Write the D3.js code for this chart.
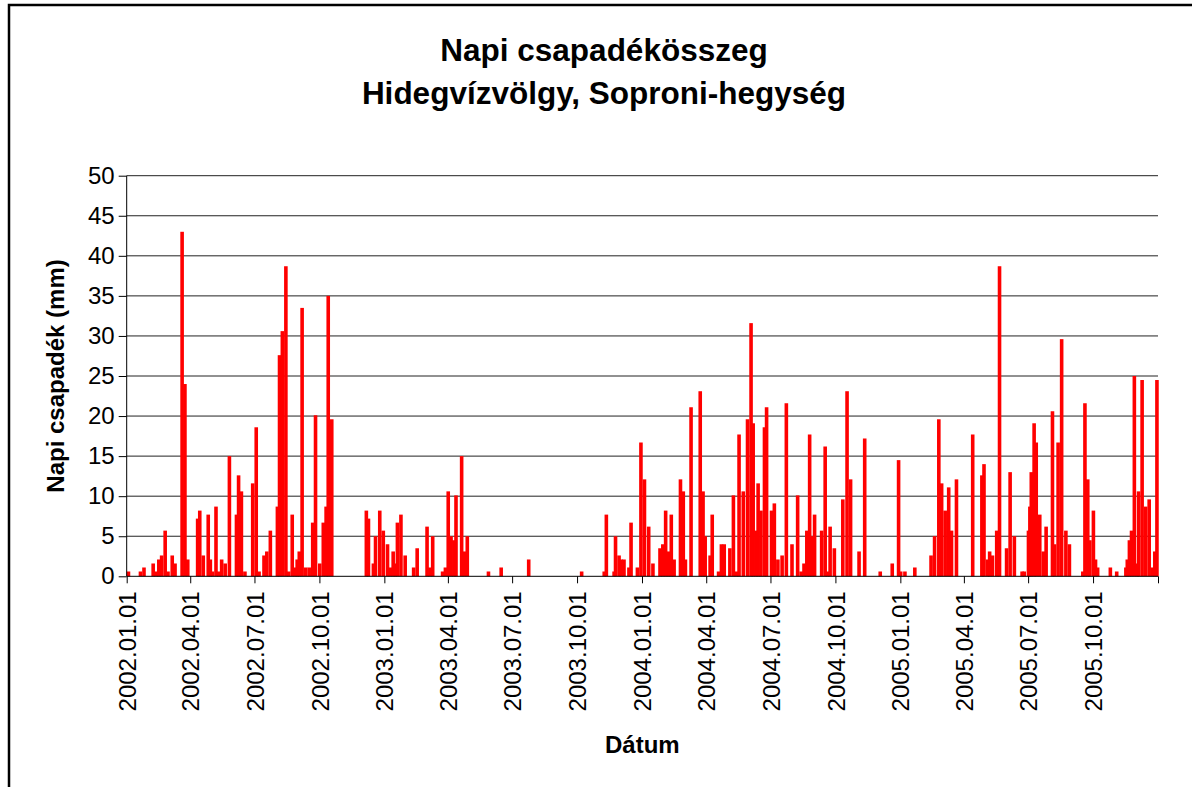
<!DOCTYPE html>
<html>
<head>
<meta charset="utf-8">
<script src="https://cdn.jsdelivr.net/npm/d3@7"></script>
<style>
  body { margin: 0; background: #fff; }
  svg { display: block; font-family: "Liberation Sans", Arial, sans-serif; }
</style>
</head>
<body>
<div id="chart"></div>
<script>
// daily precipitation (mm)
var dates = [
  "2002-01-03","2002-01-20","2002-01-25","2002-02-07","2002-02-11","2002-02-15","2002-02-19","2002-02-24","2002-02-28",
  "2002-03-06","2002-03-10","2002-03-20","2002-03-24","2002-03-28","2002-04-11","2002-04-14","2002-04-19","2002-04-26",
  "2002-04-29","2002-05-02","2002-05-07","2002-05-11","2002-05-15","2002-05-20","2002-05-26","2002-06-05","2002-06-08",
  "2002-06-12","2002-06-17","2002-06-28","2002-07-03","2002-07-07","2002-07-14","2002-07-18","2002-07-23","2002-08-02",
  "2002-08-05","2002-08-09","2002-08-14","2002-08-18","2002-08-23","2002-08-27","2002-08-30","2002-09-02","2002-09-06",
  "2002-09-11","2002-09-16","2002-09-21","2002-09-25","2002-10-01","2002-10-06","2002-10-10","2002-10-13","2002-10-18",
  "2002-12-06","2002-12-09","2002-12-16","2002-12-19","2002-12-25","2002-12-30",
  "2003-01-05","2003-01-09","2003-01-13","2003-01-16","2003-01-19","2003-01-24","2003-01-30","2003-02-11","2003-02-16",
  "2003-03-02","2003-03-06","2003-03-10","2003-03-24","2003-03-28","2003-04-01","2003-04-05","2003-04-09","2003-04-12",
  "2003-04-20","2003-04-24","2003-04-28","2003-05-28","2003-06-15","2003-07-24","2003-10-07","2003-11-08","2003-11-11",
  "2003-11-22","2003-11-24","2003-11-29","2003-12-02","2003-12-06","2003-12-13","2003-12-16","2003-12-25","2003-12-30",
  "2004-01-04","2004-01-10","2004-01-16","2004-01-26","2004-01-30","2004-02-03","2004-02-07","2004-02-11","2004-02-15",
  "2004-02-24","2004-02-28","2004-03-02","2004-03-10","2004-03-23","2004-03-27","2004-03-30","2004-04-06","2004-04-09",
  "2004-04-18","2004-04-22","2004-04-26","2004-05-04","2004-05-09","2004-05-13","2004-05-17","2004-05-23","2004-05-29",
  "2004-06-03","2004-06-06","2004-06-10","2004-06-13","2004-06-17","2004-06-22","2004-06-25","2004-07-02","2004-07-06",
  "2004-07-11","2004-07-17","2004-07-23","2004-07-31","2004-08-08","2004-08-13","2004-08-17","2004-08-21","2004-08-25",
  "2004-08-28","2004-09-01","2004-09-11","2004-09-16","2004-09-19","2004-09-23","2004-09-29","2004-10-11","2004-10-17",
  "2004-10-22","2004-11-03","2004-11-11","2004-12-03","2004-12-20","2004-12-29",
  "2005-01-01","2005-01-07","2005-01-21","2005-02-13","2005-02-18","2005-02-24","2005-02-28","2005-03-05","2005-03-10",
  "2005-03-14","2005-03-21","2005-04-13","2005-04-26","2005-04-29","2005-05-04","2005-05-07","2005-05-11","2005-05-17",
  "2005-05-21","2005-05-31","2005-06-05","2005-06-11","2005-06-22","2005-06-25","2005-07-01","2005-07-03","2005-07-05",
  "2005-07-09","2005-07-12","2005-07-17","2005-07-22","2005-07-26","2005-08-04","2005-08-07","2005-08-12","2005-08-17",
  "2005-08-23","2005-08-28","2005-09-16","2005-09-19","2005-09-23","2005-09-26","2005-10-01","2005-10-04","2005-10-07",
  "2005-10-25","2005-11-03","2005-11-16","2005-11-18","2005-11-21","2005-11-24","2005-11-28","2005-12-02","2005-12-04",
  "2005-12-09","2005-12-14","2005-12-19","2005-12-24","2005-12-27","2005-12-30"
];
var rain = [
  0.6,0.6,1.1,1.6,0.6,2.1,2.6,5.7,0.6,
  2.6,1.6,43.0,24.0,2.1,7.2,8.2,2.6,7.7,
  2.1,0.6,8.7,0.6,2.1,1.6,15.0,7.7,12.6,
  10.6,0.6,11.6,18.6,0.6,2.6,3.1,5.7,8.7,
  27.6,30.6,38.7,0.6,7.7,1.1,2.1,3.1,33.5,
  1.1,1.1,6.7,20.1,1.6,6.7,8.7,35.0,19.6,
  8.2,7.2,1.6,5.0,8.2,5.7,
  4.0,1.1,3.1,1.6,6.7,7.7,2.6,1.1,3.5,
  6.2,1.1,5.0,0.6,1.1,10.6,5.0,4.5,10.1,
  15.0,3.1,5.0,0.6,1.1,2.1,0.6,0.6,7.7,
  0.6,5.0,2.6,2.1,2.1,1.1,6.7,1.1,16.7,
  12.1,6.2,1.6,3.5,4.0,8.2,3.1,7.7,2.1,
  12.1,10.6,2.1,21.1,23.1,10.6,5.0,2.6,7.7,
  0.6,4.0,4.0,3.5,10.1,0.6,17.7,10.6,19.6,
  31.6,19.1,5.7,11.6,8.2,18.6,21.1,8.2,9.1,
  2.1,2.6,21.6,4.0,10.1,0.6,1.6,5.7,17.7,
  5.0,7.7,5.7,16.2,0.6,6.2,3.5,9.6,23.1,
  12.1,3.1,17.2,0.6,1.6,14.5,
  0.6,0.6,1.1,2.6,5.0,19.6,11.6,8.2,11.1,
  5.7,12.1,17.7,12.6,14.0,2.1,3.1,2.6,5.7,
  38.7,3.5,13.0,5.0,0.6,0.6,5.7,8.7,13.0,
  19.1,16.7,7.7,3.1,6.2,20.6,4.0,16.7,29.6,
  5.7,4.0,0.6,21.6,12.1,4.5,8.2,2.1,1.1,
  1.1,0.6,1.1,2.1,4.5,5.7,25.0,1.6,10.6,
  24.5,8.7,9.6,1.1,3.1,24.5
];
var tickLabels = ["2002.01.01","2002.04.01","2002.07.01","2002.10.01","2003.01.01","2003.04.01","2003.07.01","2003.10.01",
  "2004.01.01","2004.04.01","2004.07.01","2004.10.01","2005.01.01","2005.04.01","2005.07.01","2005.10.01"];
var yTicks = [0, 5, 10, 15, 20, 25, 30, 35, 40, 45, 50];

var W = 1192, H = 787;
var plotL = 126.7, plotR = 1158, plotT = 175.7, plotB = 576.3;

var parseDay = d3.timeParse("%Y-%m-%d");
var parseTick = d3.timeParse("%Y.%m.%d");
var fmtTick = d3.timeFormat("%Y.%m.%d");

var data = dates.map(function(d, i) { return { date: parseDay(d), value: rain[i] }; });

var start = parseTick(tickLabels[0]);
var end = d3.timeYear.offset(parseTick("2005.01.01"), 1);

var x = d3.scaleTime().domain([start, end]).range([plotL, plotR]);
var y = d3.scaleLinear().domain([0, 50]).range([plotB, plotT]);
var dayW = x(d3.timeDay.offset(start, 1)) - x(start);
var barW = 3.6;

var svg = d3.select('#chart').append('svg')
    .attr('width', W)
    .attr('height', H);

svg.append('rect')
    .attr('width', W).attr('height', H)
    .attr('fill', '#fff');

// chart area frame
svg.append('rect')
    .attr('x', 9).attr('y', 5)
    .attr('width', 1200).attr('height', 800)
    .attr('fill', 'none')
    .attr('stroke', '#000')
    .attr('stroke-width', 2.5);

// gridlines
svg.append('g')
    .selectAll('line')
    .data(yTicks.slice(1))
    .enter().append('line')
    .attr('x1', plotL).attr('x2', plotR)
    .attr('y1', function(d) { return y(d); })
    .attr('y2', function(d) { return y(d); })
    .attr('stroke', '#222')
    .attr('stroke-width', 1);

// bars
svg.append('g')
    .selectAll('rect')
    .data(data)
    .enter().append('rect')
    .attr('x', function(d) { return x(d.date) + dayW / 2 - barW / 2; })
    .attr('y', function(d) { return y(d.value); })
    .attr('width', barW)
    .attr('height', function(d) { return plotB - y(d.value); })
    .attr('fill', '#ff0000');

// y axis
var yAxis = d3.axisLeft(y).tickValues(yTicks).tickSize(8).tickPadding(4);
var gy = svg.append('g')
    .attr('transform', 'translate(' + plotL + ',0)')
    .call(yAxis);
gy.selectAll('text')
    .style('font-size', '24px')
    .attr('fill', '#000');
gy.selectAll('line, path').attr('stroke', '#000');
gy.select('.domain').attr('d', 'M0,' + plotT + 'V' + plotB);

// x axis
var xTickValues = tickLabels.map(parseTick).concat([end]);
var xAxis = d3.axisBottom(x)
    .tickValues(xTickValues)
    .tickSize(7)
    .tickFormat(function(d) { return +d === +end ? '' : fmtTick(d); });
var gx = svg.append('g')
    .attr('transform', 'translate(0,' + plotB + ')')
    .call(xAxis);
gx.selectAll('line, path').attr('stroke', '#000');
gx.select('.domain').attr('d', 'M' + plotL + ',0H' + plotR);
gx.selectAll('text')
    .style('font-size', '24px')
    .attr('fill', '#000')
    .attr('text-anchor', 'end')
    .attr('transform', 'rotate(-90)')
    .attr('x', -15)
    .attr('y', 0)
    .attr('dy', '0.36em');

// titles
svg.append('text')
    .attr('x', 604).attr('y', 61)
    .attr('text-anchor', 'middle')
    .style('font-size', '31.5px').style('font-weight', 'bold')
    .text('Napi csapadékösszeg');
svg.append('text')
    .attr('x', 604).attr('y', 104)
    .attr('text-anchor', 'middle')
    .style('font-size', '31.5px').style('font-weight', 'bold')
    .text('Hidegvízvölgy, Soproni-hegység');

svg.append('text')
    .attr('transform', 'translate(64,' + ((plotT + plotB) / 2) + ') rotate(-90)')
    .attr('text-anchor', 'middle')
    .style('font-size', '24px').style('font-weight', 'bold')
    .text('Napi csapadék (mm)');

svg.append('text')
    .attr('x', (plotL + plotR) / 2).attr('y', 753)
    .attr('text-anchor', 'middle')
    .style('font-size', '24px').style('font-weight', 'bold')
    .text('Dátum');
</script>
</body>
</html>
